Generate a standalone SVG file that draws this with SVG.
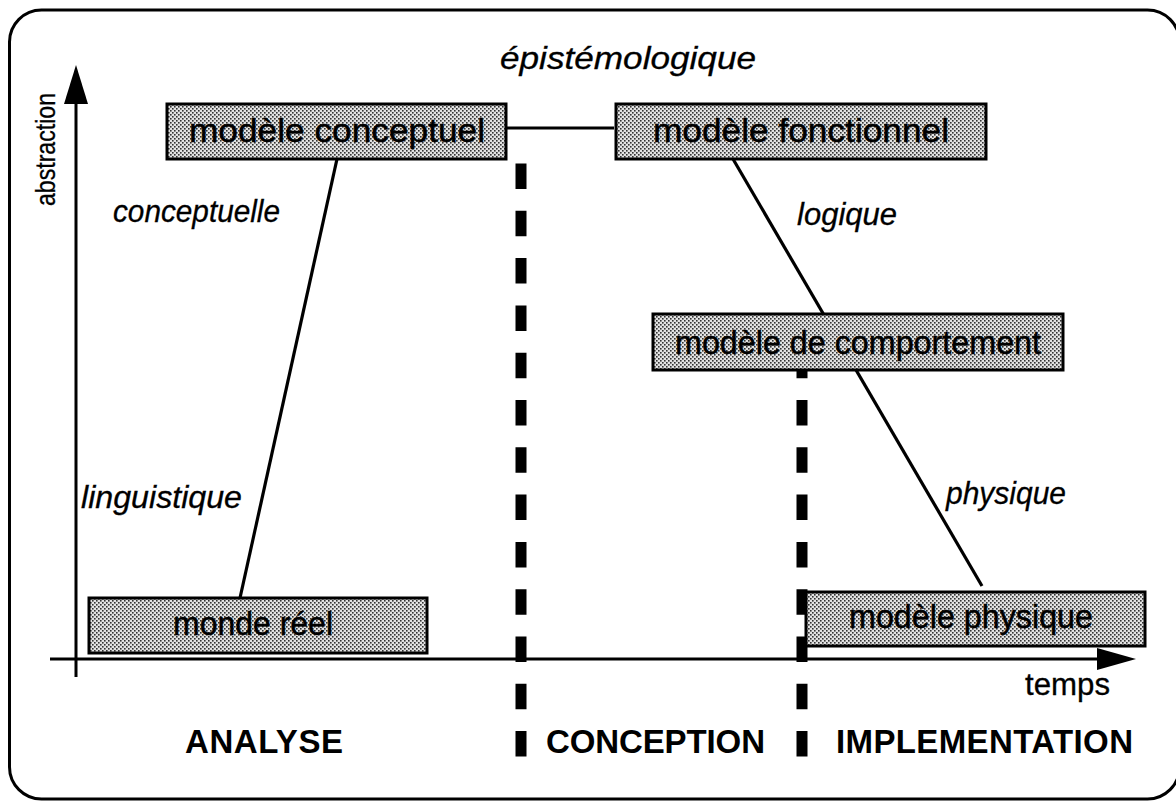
<svg xmlns="http://www.w3.org/2000/svg" width="1176" height="805" viewBox="0 0 1176 805">
<defs>
<pattern id="dots" width="4" height="4" patternUnits="userSpaceOnUse">
<rect width="4" height="4" fill="#e2e2e2"/>
<rect x="0" y="0" width="1.6" height="1.6" fill="#333"/>
<rect x="2" y="2" width="1.6" height="1.6" fill="#333"/>
</pattern>
<style>
.box{fill:url(#dots);stroke:#000;stroke-width:3}
.bt{font-family:"Liberation Sans",Arial,sans-serif;font-size:33px;fill:#000;stroke:#000;stroke-width:0.5;text-anchor:middle}
.it{font-family:"Liberation Sans",Arial,sans-serif;font-size:32px;font-style:italic;fill:#000;stroke:#000;stroke-width:0.3}
.rg{font-family:"Liberation Sans",Arial,sans-serif;font-size:31px;fill:#000;stroke:#000;stroke-width:0.3}
.ph{font-family:"Liberation Sans",Arial,sans-serif;font-size:33px;font-weight:bold;fill:#000}
.ln{stroke:#000;stroke-width:3.2;fill:none}
.dash{stroke:#000;stroke-width:11;stroke-dasharray:25.5 21.8;fill:none}
</style>
</defs>
<rect x="9.5" y="10" width="1170" height="789" rx="32" fill="#fff" stroke="#000" stroke-width="3"/>

<g id="axes">
<line x1="76" y1="100" x2="76" y2="677" stroke="#000" stroke-width="3"/>
<polygon points="76,65 64,104 88,104" fill="#000"/>
<line x1="50" y1="659" x2="1100" y2="659" stroke="#000" stroke-width="3"/>
<polygon points="1136,659 1097,648 1097,670" fill="#000"/>
<text class="rg" style="font-size:28px" transform="translate(55,206) rotate(-90)" textLength="113" lengthAdjust="spacingAndGlyphs">abstraction</text>
<text class="rg" x="1025" y="695" textLength="85" lengthAdjust="spacingAndGlyphs">temps</text>
</g>

<g id="connectors">
<line class="ln" x1="240" y1="598" x2="337" y2="159"/>
<line class="ln" x1="733" y1="159" x2="982" y2="586"/>
<line class="ln" x1="506" y1="128" x2="614" y2="128"/>
<line class="dash" x1="521" y1="163.5" x2="521" y2="760"/>
<line class="dash" x1="802" y1="352.7" x2="802" y2="760"/>
</g>

<g id="n-conceptuel">
<rect class="box" x="167" y="104" width="339" height="55"/>
<text class="bt" x="337" y="142" textLength="296" lengthAdjust="spacingAndGlyphs">modèle conceptuel</text>
</g>
<g id="n-fonctionnel">
<rect class="box" x="616" y="104" width="370" height="55"/>
<text class="bt" x="801" y="142" textLength="296" lengthAdjust="spacingAndGlyphs">modèle fonctionnel</text>
</g>
<g id="n-comportement">
<rect class="box" x="653" y="314" width="410" height="56"/>
<text class="bt" x="858" y="354" textLength="366" lengthAdjust="spacingAndGlyphs">modèle de comportement</text>
</g>
<g id="n-monde">
<rect class="box" x="89" y="598" width="338" height="55"/>
<text class="bt" x="253" y="635" textLength="160" lengthAdjust="spacingAndGlyphs">monde réel</text>
</g>
<g id="n-physique">
<rect class="box" x="806" y="592" width="339" height="54"/>
<text class="bt" x="971" y="628" textLength="244" lengthAdjust="spacingAndGlyphs">modèle physique</text>
</g>

<g id="labels">
<text class="it" x="500" y="69" textLength="256" lengthAdjust="spacingAndGlyphs">épistémologique</text>
<text class="it" x="113" y="222" textLength="167" lengthAdjust="spacingAndGlyphs">conceptuelle</text>
<text class="it" x="797" y="225" textLength="100" lengthAdjust="spacingAndGlyphs">logique</text>
<text class="it" x="81" y="508" textLength="161" lengthAdjust="spacingAndGlyphs">linguistique</text>
<text class="it" x="946" y="504" textLength="120" lengthAdjust="spacingAndGlyphs">physique</text>
<text class="ph" x="185" y="753" textLength="158">ANALYSE</text>
<text class="ph" x="546" y="753" textLength="219">CONCEPTION</text>
<text class="ph" x="836" y="753" textLength="297">IMPLEMENTATION</text>
</g>
</svg>
